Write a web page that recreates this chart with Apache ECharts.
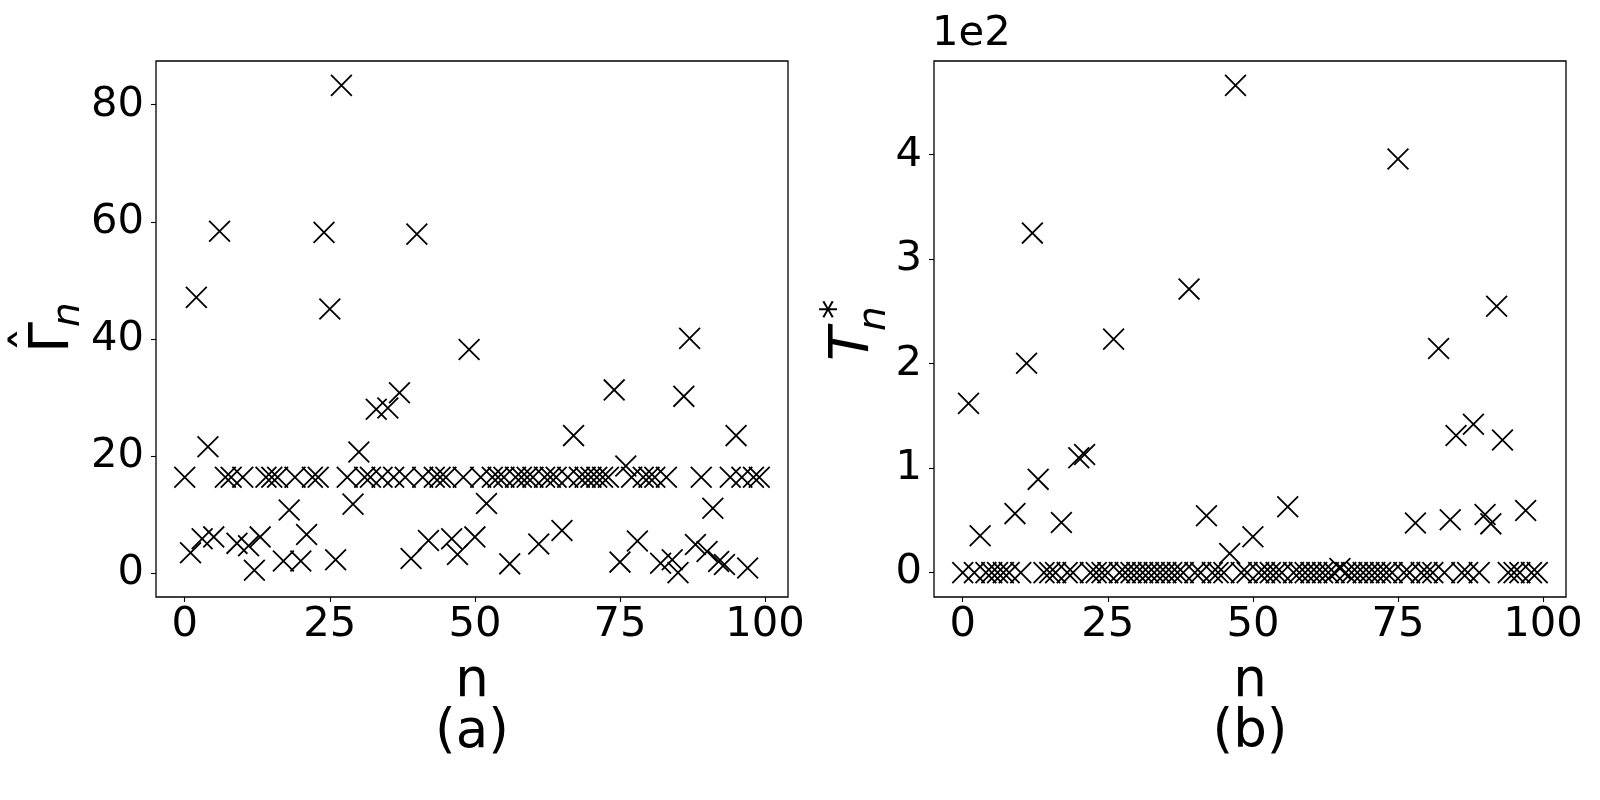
<!DOCTYPE html>
<html>
<head>
<meta charset="utf-8">
<script src="https://cdn.jsdelivr.net/npm/echarts@6/dist/echarts.min.js"></script>
<style>
html,body{margin:0;padding:0;background:#fff;}
#chart{width:1600px;height:800px;}
</style>
</head>
<body>
<div id="chart"></div>
<script>
// ---- data ----
const nValues = Array.from({length: 100}, (_, i) => i);
const gammaHat = [
  16.4, 3.5, 47.1, 5.9, 21.6, 6.2, 58.4, 16.4, 16.4, 5.1,
  16.4, 4.7, 0.5, 6.2, 16.4, 16.4, 16.4, 2.1, 10.8, 16.4,
  2.1, 6.6, 16.4, 16.4, 58.2, 45.1, 2.3, 83.3, 16.4, 11.8,
  20.7, 16.4, 16.4, 28.0, 16.4, 28.2, 16.4, 30.8, 16.4, 2.5,
  57.9, 16.4, 5.6, 16.4, 16.4, 16.4, 5.9, 3.2, 16.4, 38.2,
  6.2, 16.4, 11.9, 16.4, 16.4, 16.4, 1.6, 16.4, 16.4, 16.4,
  16.4, 5.0, 16.4, 16.4, 16.4, 7.3, 16.4, 23.5, 16.4, 16.4,
  16.4, 16.4, 16.4, 16.4, 31.3, 1.9, 18.3, 16.4, 5.5, 16.4,
  16.4, 16.4, 1.7, 16.4, 2.3, 0.1, 30.2, 40.1, 4.9, 16.4,
  3.7, 11.1, 2.0, 1.5, 16.4, 23.5, 16.4, 0.9, 16.4, 16.4
];
const tStar = [
  0, 162, 0, 35.3, 0, 0, 0, 0, 0, 56.5,
  0, 200.4, 325, 89.3, 0, 0, 0, 48, 0, 0,
  110, 113, 0, 0, 0, 0, 223.5, 0, 0, 0,
  0, 0, 0, 0, 0, 0, 0, 0, 0, 271.4,
  0, 0, 54.4, 0, 0, 0, 18.3, 466.4, 0, 0,
  34.4, 0, 0, 0, 0, 0, 63, 0, 0, 0,
  0, 0, 0, 0, 0, 4, 0, 0, 0, 0,
  0, 0, 0, 0, 0, 396, 0, 0, 47.5, 0,
  0, 0, 214.6, 0, 50.6, 131.3, 0, 0, 142, 0,
  55.6, 46.7, 254.9, 127, 0, 0, 0, 59.4, 0, 0
];
const xTicks = [0, 25, 50, 75, 100];
const gammaTicks = [0, 20, 40, 60, 80];
const tStarTicks = [0, 100, 200, 300, 400];
const tStarScaleText = '1e2';
const panelLabels = ['(a)', '(b)'];
const xName = 'n';

// ---- helpers ----
function padded(arr) {
  const mn = Math.min(...arr), mx = Math.max(...arr);
  const m = (mx - mn) * 0.05;
  return [mn - m, mx + m];
}
const FONT = 'DejaVu Sans';
const xExt = padded(nValues);
const gExt = padded(gammaHat);
const tExt = padded(tStar);

const crossSymbol = 'path://M0 0L20 20M20 0L0 20';

function xAxisDef(gridIndex) {
  return {
    type: 'value', gridIndex: gridIndex, min: xExt[0], max: xExt[1],
    axisLine: {show: false, onZero: false},
    splitLine: {show: false},
    axisTick: {show: true, inside: false, length: 5, customValues: xTicks,
      lineStyle: {color: '#000', width: 1.1}},
    axisLabel: {show: true, customValues: xTicks, fontFamily: FONT, fontSize: 41.7,
      color: '#000', margin: 28, verticalAlign: 'middle'}
  };
}
function yAxisDef(gridIndex, ext, ticks, fmt) {
  return {
    type: 'value', gridIndex: gridIndex, min: ext[0], max: ext[1],
    axisLine: {show: false, onZero: false},
    splitLine: {show: false},
    axisTick: {show: true, inside: false, length: 5, customValues: ticks,
      lineStyle: {color: '#000', width: 1.1}},
    axisLabel: {show: true, customValues: ticks, fontFamily: FONT, fontSize: 41.7,
      color: '#000', margin: 12, formatter: fmt}
  };
}
function scatterDef(idx, ys) {
  return {
    type: 'scatter', xAxisIndex: idx, yAxisIndex: idx,
    data: nValues.map((n, i) => [n, ys[i]]),
    symbol: crossSymbol, symbolSize: 20.8,
    itemStyle: {color: 'rgba(0,0,0,0)', borderColor: '#000', borderWidth: 1.8, opacity: 1},
    emphasis: {disabled: true},
    animation: false
  };
}

const chart = echarts.init(document.getElementById('chart'), null, {renderer: 'canvas'});
const R = Math.PI / 2;
const textStyle = (txt, size, extra) => Object.assign({
  text: txt, fontFamily: FONT, fontSize: size, fill: '#000',
  align: 'left', verticalAlign: 'middle'
}, extra || {});

chart.setOption({
  animation: false,
  backgroundColor: '#fff',
  grid: [
    {left: 156, top: 61, width: 632, height: 536, show: true, borderColor: '#000', borderWidth: 1.3, backgroundColor: 'transparent'},
    {left: 934, top: 61, width: 632, height: 536, show: true, borderColor: '#000', borderWidth: 1.3, backgroundColor: 'transparent'}
  ],
  xAxis: [xAxisDef(0), xAxisDef(1)],
  yAxis: [
    yAxisDef(0, gExt, gammaTicks, v => String(v)),
    yAxisDef(1, tExt, tStarTicks, v => String(Math.round(v / 100)))
  ],
  series: [scatterDef(0, gammaHat), scatterDef(1, tStar)],
  graphic: [
    // left y label: Gamma-hat subscript n
    {type: 'text', x: 53.8, y: 353, rotation: R, style: textStyle('\u0393', 55.6)},
    {type: 'text', x: 35, y: 339.5, rotation: R, style: textStyle('\u02C6', 52, {align: 'center'})},
    {type: 'text', x: 68.5, y: 327, rotation: R, style: textStyle('n', 38.9, {fontStyle: 'italic'})},
    // right y label: T^*_n
    {type: 'text', x: 854, y: 361, rotation: R, style: textStyle('T', 55.6, {fontStyle: 'italic'})},
    {type: 'text', x: 837.8, y: 319, rotation: R, style: textStyle('*', 38.9)},
    {type: 'text', x: 874.5, y: 331, rotation: R, style: textStyle('n', 38.9, {fontStyle: 'italic'})},
    // scale text
    {type: 'text', x: 932, y: 34, style: textStyle(tStarScaleText, 41.7)},
    // x labels and panel labels
    {type: 'text', x: 472, y: 682, style: textStyle(xName, 53, {align: 'center'})},
    {type: 'text', x: 472, y: 733, style: textStyle(panelLabels[0], 53, {align: 'center'})},
    {type: 'text', x: 1250, y: 682, style: textStyle(xName, 53, {align: 'center'})},
    {type: 'text', x: 1250, y: 733, style: textStyle(panelLabels[1], 53, {align: 'center'})}
  ]
});
</script>
</body>
</html>
